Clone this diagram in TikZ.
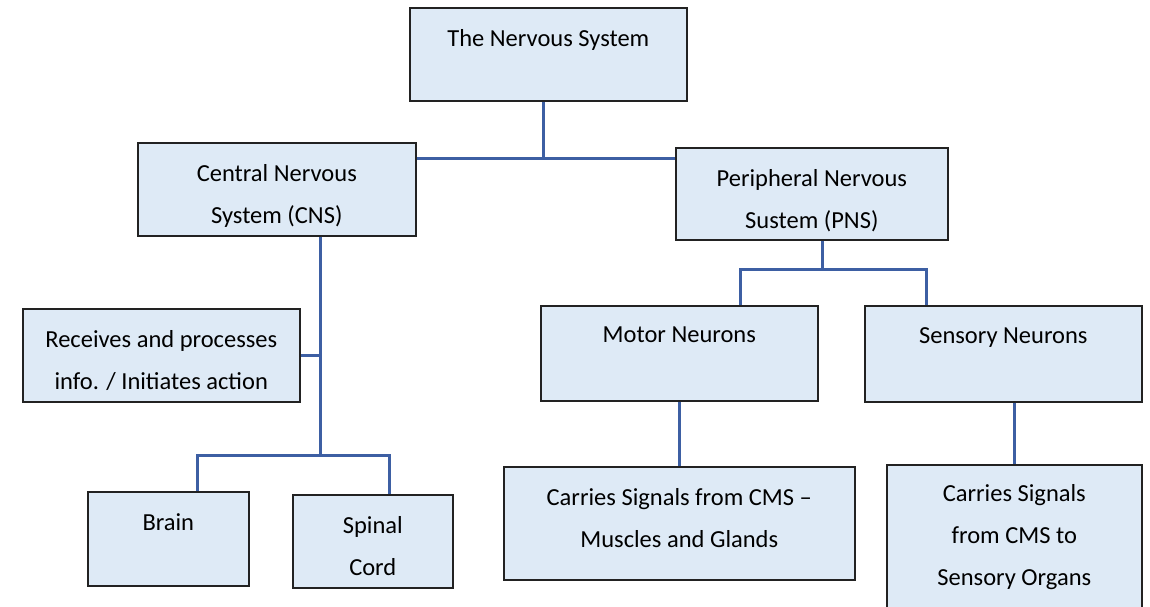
\documentclass[tikz,border=0pt]{standalone}
\usepackage{fontspec}
\setmainfont{Carlito}
\definecolor{boxfill}{HTML}{DEEAF6}
\definecolor{linkblue}{HTML}{3D5FA3}
\definecolor{boxline}{HTML}{222222}
\begin{document}
\begin{tikzpicture}[x=1pt,y=-1pt,
 box/.style={draw=boxline, line width=1.6pt, fill=boxfill, inner sep=0pt, anchor=north west},
 txt/.style={anchor=north, align=center, inner sep=0pt, font=\fontsize{24.5}{42}\selectfont},
 link/.style={draw=linkblue, line width=3pt}]
\useasboundingbox (0,0) rectangle (1150,606);
% boxes
\node[box, minimum width=277pt, minimum height=93pt] (top) at (409,7) {};
\node[box, minimum width=278pt, minimum height=93pt] (cns) at (137,142) {};
\node[box, minimum width=272pt, minimum height=92pt] (pns) at (675,147) {};
\node[box, minimum width=277pt, minimum height=93pt] (recv) at (22,308) {};
\node[box, minimum width=161pt, minimum height=94pt] (brain) at (87,491) {};
\node[box, minimum width=160pt, minimum height=93pt] (spinal) at (292,494) {};
\node[box, minimum width=277pt, minimum height=95pt] (motor) at (540,305) {};
\node[box, minimum width=277pt, minimum height=96pt] (sensory) at (864,305) {};
\node[box, minimum width=351pt, minimum height=113pt] (cms) at (503,466) {};
\node[box, minimum width=255pt, minimum height=143pt] (organs) at (886,464) {};
% texts
\node[txt] (ttop) at ([yshift=-22pt]top.north) {The Nervous System};
\node[txt] (tcns) at ([yshift=-22pt]cns.north) {Central Nervous\\System (CNS)};
\node[txt] (tpns) at ([yshift=-22pt]pns.north) {Peripheral Nervous\\Sustem (PNS)};
\node[txt] (trecv) at ([yshift=-22pt]recv.north) {Receives and processes\\info. / Initiates action};
\node[txt] (tbrain) at ([yshift=-22pt]brain.north) {Brain};
\node[txt] (tspinal) at ([yshift=-22pt]spinal.north) {Spinal\\Cord};
\node[txt] (tmotor) at ([yshift=-22pt]motor.north) {Motor Neurons};
\node[txt] (tsensory) at ([yshift=-22pt]sensory.north) {Sensory Neurons};
\node[txt] (tcms) at ([yshift=-22pt]cms.north) {Carries Signals from CMS –\\Muscles and Glands};
\node[txt] (torgans) at ([yshift=-20pt]organs.north) {Carries Signals\\from CMS to\\Sensory Organs};
% connectors
\coordinate (tj) at (543,158);
\draw[link] (tj |- top.south) -- (tj);
\draw[link] (cns.east |- tj) -- (pns.west |- tj);
\coordinate (cv) at (320,455);
\draw[link] (cv |- cns.south) -- (cv);
\draw[link] (recv.east) -- (recv.east -| cv);
\coordinate (bl) at (197,455);
\coordinate (sl) at (389,455);
\draw[link] (bl |- brain.north) -- (bl) -- (sl) -- (sl |- spinal.north);
\coordinate (pv) at (822,269);
\coordinate (ml) at (740,269);
\coordinate (sr) at (926,269);
\draw[link] (pv |- pns.south) -- (pv);
\draw[link] (ml |- motor.north) -- (ml) -- (sr) -- (sr |- sensory.north);
\draw[link] (motor.south) -- (motor.south |- cms.north);
\draw[link] (organs.north |- sensory.south) -- (organs.north);
\end{tikzpicture}
\end{document}
